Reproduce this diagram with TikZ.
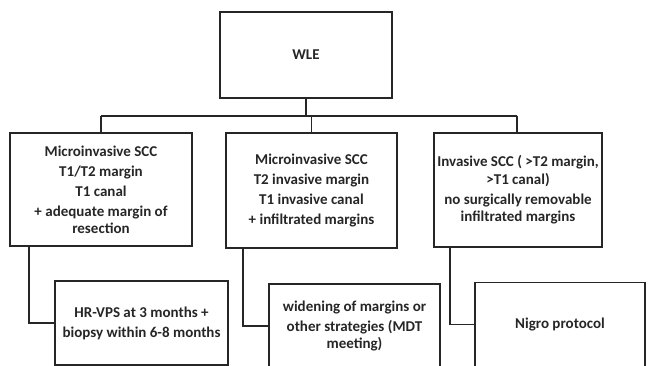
\documentclass[tikz,border=0pt]{standalone}
\usepackage{fontspec}
\setmainfont{Carlito}
\begin{document}
\begin{tikzpicture}[x=1pt,y=-1pt,
  box/.style={draw=black!85, line width=1.6pt, rectangle, align=center, inner sep=0pt,
    font=\bfseries\fontsize{15}{17}\selectfont, text=black!85},
  link/.style={draw=black!85, line width=1.6pt}]
\useasboundingbox (0,0) rectangle (648,366);
\node[box, minimum width=172pt, minimum height=86pt] (wle) at (306,55) {WLE};
\node[box, minimum width=182pt, minimum height=113pt] (b1) at (101,189.5)
  {Microinvasive SCC\\[3pt] T1/T2 margin\\[3pt] T1 canal\\[3pt] + adequate margin of\\ resection};
\node[box, minimum width=171pt, minimum height=115pt] (b2) at (311.5,190.5)
  {Microinvasive SCC\\[3pt] T2 invasive margin\\[3pt] T1 invasive canal\\[3pt] + infiltrated margins};
\node[box, minimum width=168pt, minimum height=114pt] (b3) at (518,190)
  {Invasive SCC ( >T2 margin,\\[1pt] >T1 canal)\\[3pt] no surgically removable\\ infiltrated margins};
\node[box, minimum width=173pt, minimum height=84pt] (c1) at (141.5,323)
  {HR-VPS at 3 months +\\[3pt] biopsy within 6-8 months};
\node[box, minimum width=171pt, minimum height=84pt] (c2) at (354.5,326)
  {widening of margins or\\[3pt] other strategies (MDT\\ meeting)};
\node[box, minimum width=170pt, minimum height=84pt] (c3) at (560,324.5)
  {Nigro protocol};
\coordinate (busL) at (101,116);
\coordinate (busR) at (517,116);
\draw[link] (wle.south) -- (wle.south |- busL);
\draw[link] (busL) -- (busR);
\draw[link] (busL) -- (b1.north);
\draw[link] (b2.north |- busL) -- (b2.north);
\draw[link] (busR) -- (busR |- b3.north);
\draw[link] ([xshift=20pt]b1.south west) |- (c1.west);
\draw[link] ([xshift=18pt]b2.south west) |- (c2.west);
\draw[link] ([xshift=17pt]b3.south west) |- (c3.west);
\end{tikzpicture}
\end{document}
